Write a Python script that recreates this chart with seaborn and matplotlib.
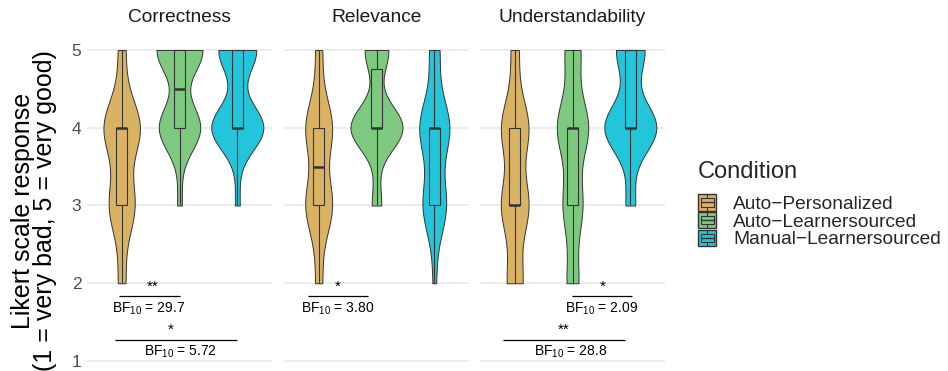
import numpy as np
import pandas as pd
import matplotlib
matplotlib.use("Agg")
import matplotlib.pyplot as plt
import seaborn as sns
from matplotlib.patches import Rectangle, Patch
from matplotlib.lines import Line2D
from matplotlib.legend_handler import HandlerBase

sns.set_theme(style="white")
plt.rcParams["font.family"] = ["Liberation Sans", "DejaVu Sans"]
plt.rcParams["mathtext.fontset"] = "custom"
plt.rcParams["mathtext.rm"] = "Liberation Sans"
plt.rcParams["mathtext.it"] = "Liberation Sans:italic"

# ---------------- data ----------------
facets = ["Correctness", "Relevance", "Understandability"]
conditions = ["Auto\u2212Personalized", "Auto\u2212Learnersourced", "Manual\u2212Learnersourced"]
colors = ["#DAB263", "#7EC980", "#22C5DA"]
likert_levels = [2, 3, 4, 5]

# counts of responses at levels 2,3,4,5
correctness_ap = [2, 7, 10, 2]
correctness_al = [0, 1, 9, 10]
correctness_ml = [0, 1, 11, 8]
relevance_ap = [2, 8, 8, 2]
relevance_al = [0, 2, 11, 5]
relevance_ml = [1, 7, 9, 3]
understand_ap = [4, 7, 7, 2]
understand_al = [3, 5, 8, 4]
understand_ml = [0, 2, 11, 6]

counts = {
    "Correctness": [correctness_ap, correctness_al, correctness_ml],
    "Relevance": [relevance_ap, relevance_al, relevance_ml],
    "Understandability": [understand_ap, understand_al, understand_ml],
}

# significance annotations: facet, x start, x end, y of bar, stars, star x, BF label, BF x
sig_facet = ["Correctness", "Correctness", "Relevance", "Understandability", "Understandability"]
sig_x1 = [-0.05, -0.12, -0.19, 0.99, -0.20]
sig_x2 = [1.00, 1.99, 0.85, 2.03, 1.91]
sig_y = [1.83, 1.27, 1.83, 1.83, 1.27]
sig_stars = ["**", "*", "*", "*", "**"]
sig_star_x = [0.54, 0.85, 0.33, 1.52, 0.84]
sig_bf = ["29.7", "5.72", "3.80", "2.09", "28.8"]
sig_bf_x = [0.47, 1.02, 0.33, 1.51, 0.96]

rows = []
for f in facets:
    for cond, cnt in zip(conditions, counts[f]):
        for lvl, c in zip(likert_levels, cnt):
            rows += [(f, cond, lvl)] * c
df = pd.DataFrame(rows, columns=["facet", "condition", "response"])


def nrd0(kde):
    x = np.asarray(kde.dataset).ravel()
    n = x.size
    sd = np.std(x, ddof=1)
    q1, q3 = np.percentile(x, [25, 75])
    lo = min(sd, (q3 - q1) / 1.34)
    if lo <= 0:
        lo = sd if sd > 0 else 1.0
    bw = 0.9 * lo * n ** (-0.2)
    return bw / sd


class BoxKeyHandler(HandlerBase):
    def create_artists(self, legend, orig_handle, xdescent, ydescent,
                       width, height, fontsize, trans):
        col = orig_handle.get_facecolor()
        x0, y0 = -xdescent, -ydescent
        ec = "#333333"
        outer = Rectangle((x0, y0), width, height, facecolor=col,
                          edgecolor=ec, lw=1.0, transform=trans)
        bw = width * 0.72
        bx = x0 + (width - bw) / 2
        box = Rectangle((bx, y0 + height * 0.25), bw, height * 0.5,
                        facecolor=col, edgecolor=ec, lw=0.8, transform=trans)
        med = Line2D([bx, bx + bw], [y0 + height * 0.5] * 2, color=ec,
                     lw=1.0, transform=trans)
        w1 = Line2D([x0 + width / 2] * 2, [y0, y0 + height * 0.25], color=ec,
                    lw=0.8, transform=trans)
        w2 = Line2D([x0 + width / 2] * 2, [y0 + height * 0.75, y0 + height],
                    color=ec, lw=0.8, transform=trans)
        return [outer, box, med, w1, w2]


W, H = 948, 371
fig = plt.figure(figsize=(W / 100, H / 100), dpi=100)
panel_left = [87, 284, 480]
panel_w = 185
ax_top_px = 40
ylim = (1 - 10 / 78, 5 + 10 / 78)
edge = "#333333"

for i, f in enumerate(facets):
    ax = fig.add_axes([panel_left[i] / W, 0, panel_w / W, (H - ax_top_px) / H])
    sub = df[df.facet == f]
    sns.violinplot(data=sub, x="condition", y="response", hue="condition",
                   order=conditions, hue_order=conditions, palette=colors,
                   density_norm="area", common_norm=True, cut=0, inner=None,
                   bw_method=nrd0, width=0.9, linewidth=0.7, linecolor=edge,
                   saturation=1, legend=False, dodge=False, ax=ax)
    sns.boxplot(data=sub, x="condition", y="response", hue="condition",
                order=conditions, hue_order=conditions, palette=colors,
                width=0.2, showfliers=False, linewidth=0.8, linecolor=edge,
                saturation=1, legend=False, dodge=False,
                medianprops={"linewidth": 1.8, "color": edge},
                capprops={"visible": False}, ax=ax)
    ax.set_xlim(-0.6, 2.6)
    ax.set_ylim(*ylim)
    ax.set_yticks([1, 2, 3, 4, 5])
    ax.set_xticks([])
    ax.set_xlabel("")
    ax.set_ylabel("")
    for s in ax.spines.values():
        s.set_visible(False)
    ax.yaxis.grid(True, color="#EBEBEB", lw=1.3)
    ax.set_axisbelow(True)
    ax.tick_params(axis="y", length=0, pad=4, labelsize=12.5, labelcolor="#4D4D4D",
                   labelleft=(i == 0))
    ax.text(0.5, 1 + (ax_top_px - 17) / (H - ax_top_px), f, transform=ax.transAxes,
            ha="center", va="center", fontsize=13.8, color="#1A1A1A")
    for fac, x1, x2, y, st, sx, bf, bx in zip(sig_facet, sig_x1, sig_x2, sig_y,
                                              sig_stars, sig_star_x, sig_bf, sig_bf_x):
        if fac != f:
            continue
        ax.plot([x1, x2], [y, y], color="black", lw=0.9, solid_capstyle="butt")
        ax.text(sx, y + 0.04, st, ha="center", va="bottom", fontsize=11, color="black")
        ax.text(bx, y - 0.05, r"BF$_{10}$ = " + bf, ha="center", va="top",
                fontsize=10, color="black")

fig.text(34 / W, 1 - 211 / H, "Likert scale response\n(1 = very bad, 5 = very good)",
         rotation=90, ha="center", va="center", multialignment="center",
         fontsize=18, color="black", linespacing=0.92)

handles = [Patch(facecolor=c) for c in colors]
leg = fig.legend(handles=handles, labels=conditions,
                 handler_map={Patch: BoxKeyHandler()},
                 title="Condition", loc="upper left",
                 bbox_to_anchor=(698 / W, 1 - 161 / H),
                 frameon=False, fontsize=13.8, title_fontsize=17,
                 handlelength=0.95, handleheight=0.95, labelspacing=-0.06,
                 handletextpad=0.9, borderaxespad=0, borderpad=0,
                 alignment="left")
leg._legend_box.sep = 8

fig.savefig("out.png", dpi=100)
